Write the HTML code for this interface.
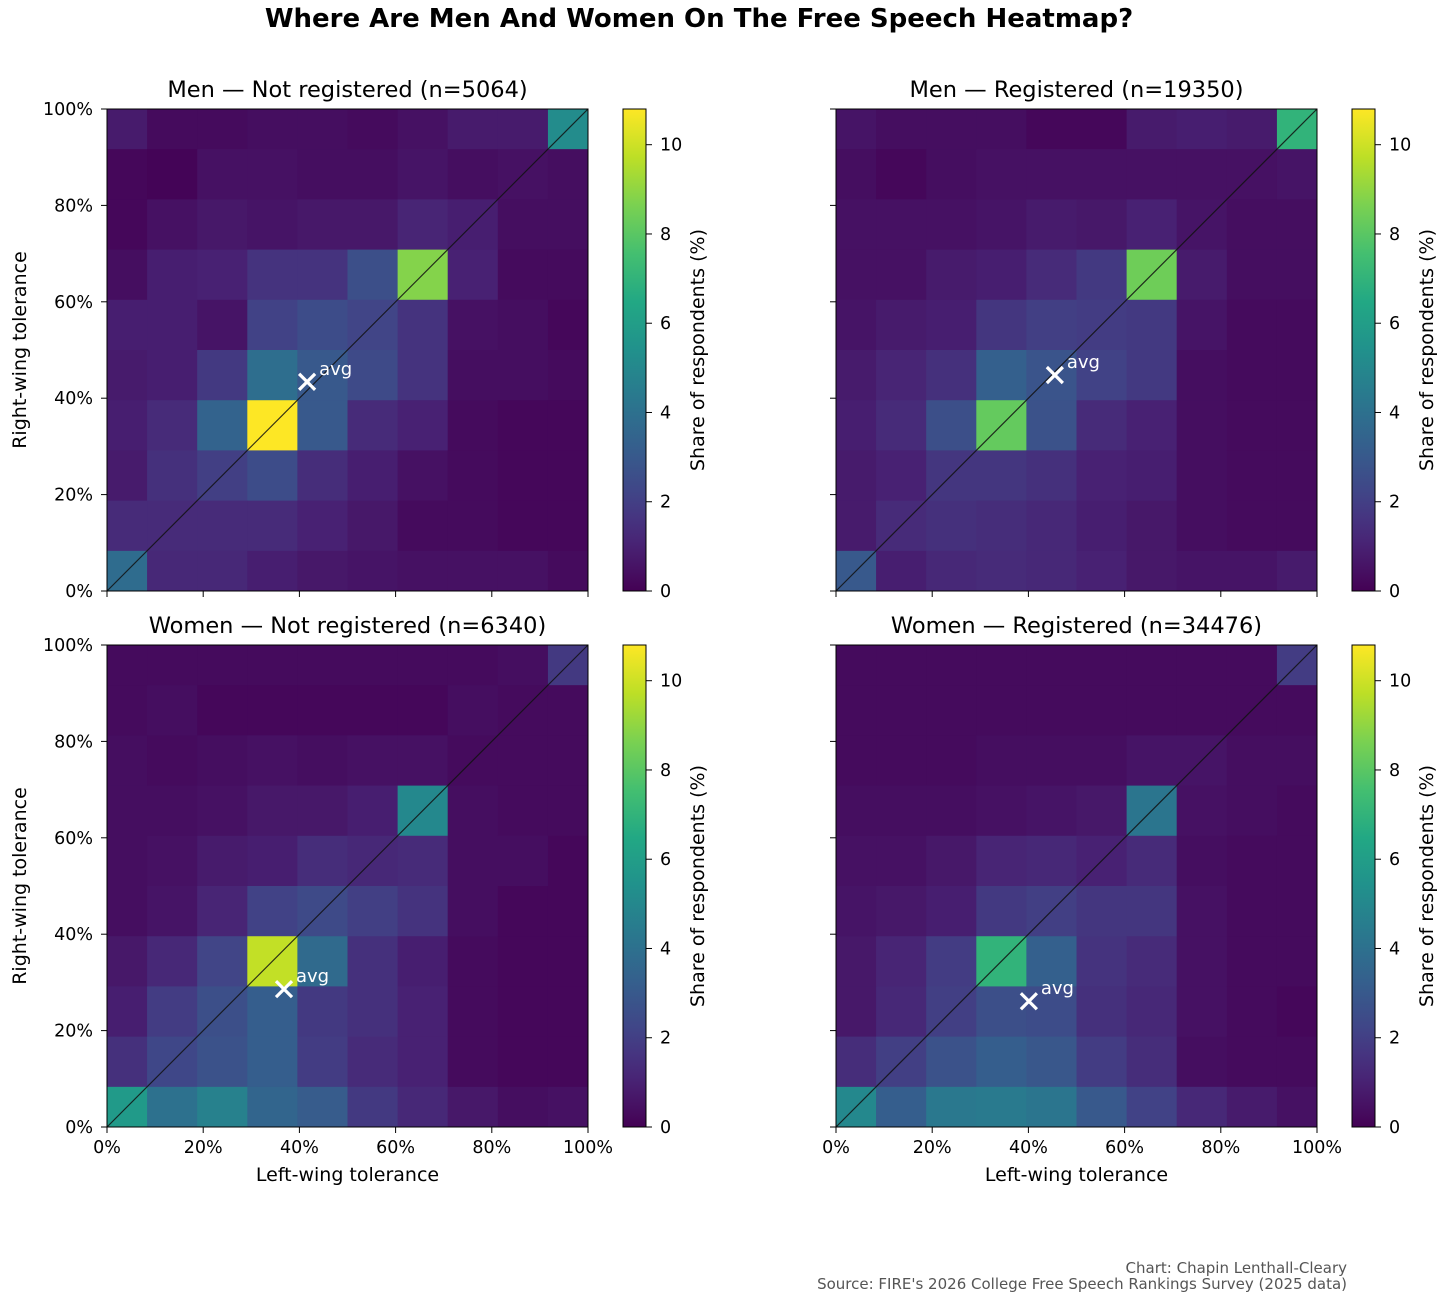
<!DOCTYPE html>
<html><head><meta charset="utf-8">
<style>
html,body{margin:0;padding:0;background:#fff;}
svg text{font-family:"DejaVu Sans","Liberation Sans",sans-serif;}
</style></head>
<body>
<svg id="chart" width="1456" height="1304" viewBox="0 0 1456 1304" xmlns="http://www.w3.org/2000/svg">
<defs>
<linearGradient id="viridis" x1="0" y1="1" x2="0" y2="0">
<stop offset="0" stop-color="#440154"/><stop offset="0.05" stop-color="#471365"/><stop offset="0.1" stop-color="#482475"/><stop offset="0.15" stop-color="#463480"/><stop offset="0.2" stop-color="#414487"/><stop offset="0.3" stop-color="#355f8d"/><stop offset="0.4" stop-color="#2a788e"/><stop offset="0.5" stop-color="#21918c"/><stop offset="0.6" stop-color="#22a884"/><stop offset="0.7" stop-color="#44bf70"/><stop offset="0.8" stop-color="#7ad151"/><stop offset="0.9" stop-color="#bddf26"/><stop offset="1" stop-color="#fde725"/>
</linearGradient>
</defs>
<text x="699" y="27" text-anchor="middle" font-size="26" font-weight="bold" fill="#000">Where Are Men And Women On The Free Speech Heatmap?</text>
<text x="1347" y="1273" text-anchor="end" font-size="15" fill="#555">Chart: Chapin Lenthall-Cleary</text>
<text x="1347" y="1289" text-anchor="end" font-size="15" fill="#555">Source: FIRE's 2026 College Free Speech Rankings Survey (2025 data)</text>
</svg>
<script>
const edges = [0, 8.33, 18.75, 29.17, 39.58, 50, 60.42, 70.83, 81.25, 91.67, 100];
const axisTicks = [0, 20, 40, 60, 80, 100];
const tickLabels = ["0%", "20%", "40%", "60%", "80%", "100%"];
const cbTicks = [0, 2, 4, 6, 8, 10];
const vmax = 10.8;
const panelTitles = ["Men — Not registered (n=5064)", "Men — Registered (n=19350)", "Women — Not registered (n=6340)", "Women — Registered (n=34476)"];
// rows listed top (90-100%) to bottom (0%), columns left to right
const menNotReg = [
[0.8,0.3,0.3,0.4,0.4,0.3,0.5,0.8,0.8,5.2],
[0.2,0.1,0.5,0.5,0.4,0.4,0.6,0.4,0.5,0.4],
[0.2,0.5,0.7,0.6,0.7,0.7,1.1,0.9,0.4,0.4],
[0.4,0.9,1.0,1.6,1.6,2.6,8.8,1.0,0.3,0.3],
[0.9,0.9,0.6,2.1,2.5,2.2,1.6,0.5,0.4,0.2],
[0.8,0.9,1.8,3.9,3.0,2.4,1.6,0.4,0.4,0.3],
[0.9,1.3,3.4,10.8,3.0,1.3,1.0,0.3,0.2,0.2],
[0.8,1.5,2.0,2.5,1.4,0.9,0.5,0.3,0.2,0.2],
[1.3,1.3,1.3,1.3,1.0,0.7,0.3,0.3,0.2,0.2],
[3.8,1.2,1.2,0.9,0.7,0.6,0.5,0.5,0.5,0.3]];
const menReg = [
[0.6,0.4,0.4,0.4,0.2,0.2,0.8,0.9,0.8,7.0],
[0.4,0.2,0.4,0.5,0.5,0.5,0.5,0.5,0.5,0.6],
[0.5,0.5,0.5,0.6,0.8,0.7,1.0,0.6,0.4,0.4],
[0.5,0.5,0.8,0.9,1.3,1.8,8.4,0.8,0.4,0.4],
[0.6,0.8,0.9,1.7,2.0,1.9,1.8,0.6,0.3,0.3],
[0.8,1.1,1.5,3.3,2.8,2.1,1.8,0.4,0.3,0.3],
[0.9,1.3,2.6,8.2,2.7,1.3,1.0,0.4,0.3,0.3],
[0.8,1.0,1.7,1.7,1.5,1.0,0.9,0.4,0.3,0.3],
[0.8,1.3,1.5,1.4,1.2,0.9,0.7,0.4,0.3,0.3],
[3.0,0.9,1.2,1.3,1.2,1.0,0.7,0.6,0.6,0.8]];
const womenNotReg = [
[0.3,0.3,0.3,0.3,0.3,0.3,0.3,0.3,0.4,1.8],
[0.3,0.4,0.2,0.2,0.2,0.2,0.2,0.4,0.3,0.3],
[0.4,0.3,0.4,0.5,0.4,0.5,0.5,0.3,0.3,0.3],
[0.4,0.4,0.5,0.7,0.7,0.9,5.0,0.4,0.3,0.3],
[0.4,0.5,0.8,0.9,1.4,1.2,1.3,0.4,0.4,0.2],
[0.4,0.6,1.1,2.1,2.4,2.0,1.6,0.4,0.2,0.2],
[0.7,1.2,2.2,9.8,3.7,1.5,0.9,0.3,0.2,0.2],
[0.9,1.9,2.6,3.2,1.8,1.5,1.0,0.3,0.2,0.2],
[1.5,2.3,2.7,3.2,1.9,1.3,1.0,0.3,0.2,0.2],
[5.8,4.0,4.7,3.5,3.1,1.8,1.2,0.7,0.4,0.5]];
const womenReg = [
[0.3,0.3,0.3,0.3,0.3,0.3,0.3,0.3,0.3,1.9],
[0.3,0.3,0.3,0.3,0.3,0.3,0.3,0.3,0.3,0.3],
[0.3,0.3,0.3,0.4,0.4,0.4,0.6,0.6,0.4,0.4],
[0.4,0.4,0.4,0.5,0.6,0.7,4.2,0.5,0.4,0.3],
[0.5,0.5,0.7,1.1,1.2,1.0,1.3,0.4,0.3,0.3],
[0.6,0.7,0.9,1.8,2.0,1.7,1.7,0.5,0.3,0.3],
[0.7,1.1,1.9,7.0,3.3,1.6,1.3,0.5,0.3,0.3],
[0.7,1.2,2.0,2.6,2.5,1.5,1.2,0.5,0.3,0.2],
[1.4,2.0,2.7,3.2,2.9,1.9,1.4,0.4,0.3,0.3],
[5.0,3.2,4.3,4.4,4.2,3.0,2.1,1.2,0.8,0.5]];
const avgX = [41.6, 45.5, 36.8, 40.1];
const avgY = [43.4, 44.8, 28.6, 26.1];

const grids = [menNotReg, menReg, womenNotReg, womenReg];
const panelLeft = [107, 836, 107, 836];
const panelTop = [109, 109, 645, 645];
const W = 481, H = 482;
const NS = "http://www.w3.org/2000/svg";
const svg = document.getElementById('chart');
const vir = ["#440154","#482475","#414487","#355f8d","#2a788e","#21918c","#22a884","#44bf70","#7ad151","#bddf26","#fde725"];
function hex(h){return [1,3,5].map(i=>parseInt(h.substr(i,2),16));}
function viridis(v){
  let t=Math.max(0,Math.min(1,v/vmax))*10;
  let i=Math.min(9,Math.floor(t)), f=t-i;
  const a=hex(vir[i]), b=hex(vir[i+1]);
  return "rgb("+a.map((c,k)=>Math.round(c+(b[k]-c)*f)).join(",")+")";
}
function mk(tag, attrs, parent){
  const e=document.createElementNS(NS,tag);
  for(const k in attrs) e.setAttribute(k, attrs[k]);
  (parent||svg).appendChild(e);
  return e;
}
for(let p=0;p<4;p++){
  const L=panelLeft[p], T=panelTop[p];
  const xs = v => L + v/100*W;
  const ys = v => T + H - v/100*H;
  const g = mk('g',{});
  
  
  const data = grids[p];
  for(let r=0;r<10;r++){
    const yi = 9 - r;
    for(let c=0;c<10;c++){
      const x0=xs(edges[c]), x1=xs(edges[c+1]);
      const y0=ys(edges[yi+1]), y1=ys(edges[yi]);
      const cell = mk('rect',{x:x0,y:y0,width:x1-x0+0.5,height:y1-y0+0.5,fill:viridis(data[r][c])},g);
      
      
    }
  }
  const diag = mk('line',{x1:xs(0),y1:ys(0),x2:xs(100),y2:ys(100),stroke:'#111','stroke-width':1.2,opacity:0.85},g);
  
  
  const frame = mk('rect',{x:L,y:T,width:W,height:H,fill:'none',stroke:'#000','stroke-width':1},g);
  
  
  const ax=xs(avgX[p]), ay=ys(avgY[p]);
  const m = mk('path',{d:`M${ax-8} ${ay-8}L${ax+8} ${ay+8}M${ax-8} ${ay+8}L${ax+8} ${ay-8}`,stroke:'#fff','stroke-width':3.2},g);
  
  
  const at = mk('text',{x:ax+12,y:ay-7,'font-size':18,fill:'#fff'},g);
  at.textContent='avg';
  
  
  const tt = mk('text',{x:L+W/2,y:T-12,'text-anchor':'middle','font-size':22.5,fill:'#000'},g);
  tt.textContent = panelTitles[p];
  
  
  for(let i=0;i<axisTicks.length;i++){
    const tx=xs(axisTicks[i]), ty=ys(axisTicks[i]);
    mk('line',{x1:tx,y1:T+H,x2:tx,y2:T+H+6,stroke:'#000'},g);
    mk('line',{x1:L-6,y1:ty,x2:L,y2:ty,stroke:'#000'},g);
    if(p>=2){
      const xl = mk('text',{x:tx,y:T+H+26,'text-anchor':'middle','font-size':17.5,fill:'#000'},g);
      xl.textContent=tickLabels[i];
      
      
    }
    if(p%2===0){
      const yl = mk('text',{x:L-14,y:ty+6,'text-anchor':'end','font-size':17.5,fill:'#000'},g);
      yl.textContent=tickLabels[i];
      
      
    }
  }
  if(p>=2){
    const xt = mk('text',{x:L+W/2,y:T+H+54,'text-anchor':'middle','font-size':19,fill:'#000'},g);
    xt.textContent='Left-wing tolerance';
    
    
  }
  if(p%2===0){
    const yt = mk('text',{x:0,y:0,'text-anchor':'middle','font-size':19,fill:'#000',transform:`translate(26 ${T+H/2}) rotate(-90)`},g);
    yt.textContent='Right-wing tolerance';
    
    
  }
  const cx = L + 516, cw = 23;
  const cb = mk('rect',{x:cx,y:T,width:cw,height:H,fill:'url(#viridis)',stroke:'#000','stroke-width':1},g);
  
  
  for(const v of cbTicks){
    const cy = T + H - v/vmax*H;
    mk('line',{x1:cx+cw,y1:cy,x2:cx+cw+6,y2:cy,stroke:'#000'},g);
    const cl = mk('text',{x:cx+cw+14,y:cy+6,'font-size':17.5,fill:'#000'},g);
    cl.textContent=String(v);
    
    
  }
  const cbt = mk('text',{x:0,y:0,'text-anchor':'middle','font-size':19,fill:'#000',transform:`translate(${cx+81} ${T+H/2}) rotate(-90)`},g);
  cbt.textContent='Share of respondents (%)';
  
  
}
</script>
</body></html>
